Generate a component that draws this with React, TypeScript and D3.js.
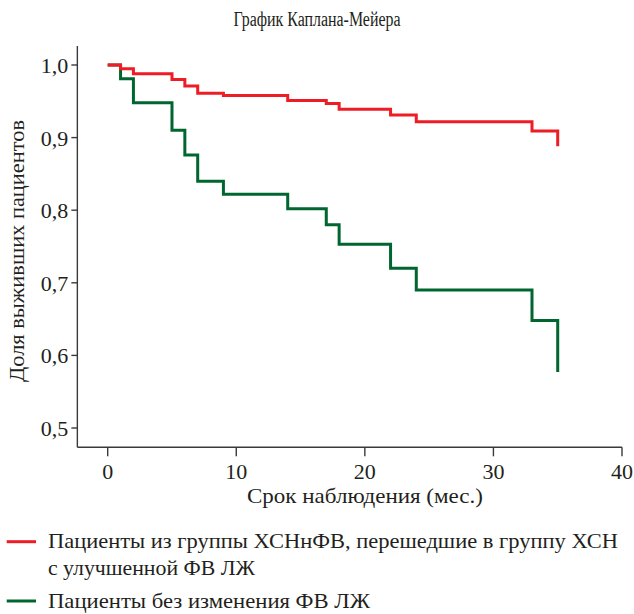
import React from "react";
import * as d3 from "d3";

const title = "График Каплана-Мейера";
const xTitle = "Срок наблюдения (мес.)";
const yTitle = "Доля выживших пациентов";
const xTicks = [0, 10, 20, 30, 40];
const yTicks = [0.5, 0.6, 0.7, 0.8, 0.9, 1.0];
const yTickLabels = ["0,5", "0,6", "0,7", "0,8", "0,9", "1,0"];

const redTimes = [0, 1, 2, 5, 6, 7, 9, 14, 17, 18, 22, 24, 33, 35];
const redSurv = [1.0, 0.995, 0.988, 0.980, 0.971, 0.961, 0.958, 0.951, 0.947, 0.939, 0.931, 0.922, 0.909, 0.888];
const greenTimes = [0, 1, 2, 5, 6, 7, 9, 14, 17, 18, 22, 24, 33, 35];
const greenSurv = [1.0, 0.981, 0.948, 0.910, 0.876, 0.840, 0.822, 0.802, 0.780, 0.753, 0.720, 0.690, 0.648, 0.577];

const legendRed1 = "Пациенты из группы ХСНнФВ, перешедшие в группу ХСН";
const legendRed2 = "с улучшенной ФВ ЛЖ";
const legendGreen = "Пациенты без изменения ФВ ЛЖ";

const RED = "#ee1c25";
const GREEN = "#00662f";
const AXIS = "#3a3a3a";
const TEXT = "#231f20";
const tStyle: React.CSSProperties = { fontFamily: '"Liberation Serif"' };

export default function App() {
  const x = d3.scaleLinear().domain([0, 40]).range([107.7, 622]);
  const y = d3.scaleLinear().domain([0.5, 1.0]).range([428, 65]);
  const xStart = x(-2.36);
  const yTop = y(1.026);
  const yBottom = 447.3;

  const line = d3
    .line<[number, number]>()
    .x((d) => x(d[0]))
    .y((d) => y(d[1]))
    .curve(d3.curveStepAfter);

  const redPts = redTimes.map((t, i) => [t, redSurv[i]] as [number, number]);
  const greenPts = greenTimes.map((t, i) => [t, greenSurv[i]] as [number, number]);

  return (
    <svg width={634} height={614} style={{ position: "absolute", left: 0, top: 0, background: "#fff" }}>
      <rect x={0} y={0} width={634} height={614} fill="#fff" />
      <text style={tStyle} x={317} y={26} textAnchor="middle" fontSize={20} fill={TEXT} textLength={167} lengthAdjust="spacingAndGlyphs">
        {title}
      </text>

      {/* axes */}
      <line x1={xStart} x2={x(40)} y1={yBottom} y2={yBottom} stroke={AXIS} strokeWidth={1.4} />
      <line x1={xStart} x2={xStart} y1={yTop} y2={yBottom} stroke={AXIS} strokeWidth={1.4} />

      {xTicks.map((t) => (
        <g key={"xt" + t}>
          <line x1={x(t)} x2={x(t)} y1={yBottom} y2={yBottom + 9} stroke={AXIS} strokeWidth={1.4} />
          <text style={tStyle} x={x(t)} y={479.3} textAnchor="middle" fontSize={22} fill={TEXT}>
            {t}
          </text>
        </g>
      ))}
      {yTicks.map((v, i) => (
        <g key={"yt" + v}>
          <line x1={xStart - 6} x2={xStart} y1={y(v)} y2={y(v)} stroke={AXIS} strokeWidth={1.4} />
          <text style={tStyle} x={xStart - 9} y={y(v) + 8} textAnchor="end" fontSize={22} fill={TEXT}>
            {yTickLabels[i]}
          </text>
        </g>
      ))}

      <text style={tStyle} x={365} y={503} textAnchor="middle" fontSize={22} fill={TEXT} textLength={236} lengthAdjust="spacingAndGlyphs">
        {xTitle}
      </text>
      <text
        style={tStyle}
        transform={`translate(24, 251) rotate(-90)`}
        textAnchor="middle"
        fontSize={22}
        fill={TEXT}
        textLength={262}
        lengthAdjust="spacingAndGlyphs"
      >
        {yTitle}
      </text>

      {/* curves */}
      <path d={line(greenPts) || ""} fill="none" stroke={GREEN} strokeWidth={3} />
      <path d={line(redPts) || ""} fill="none" stroke={RED} strokeWidth={3} />

      {/* legend */}
      <line x1={6.7} x2={36} y1={541.7} y2={541.7} stroke={RED} strokeWidth={3} />
      <text style={tStyle} x={48} y={548} fontSize={21} fill={TEXT} textLength={570} lengthAdjust="spacingAndGlyphs">
        {legendRed1}
      </text>
      <text style={tStyle} x={48} y={575} fontSize={21} fill={TEXT} textLength={207} lengthAdjust="spacingAndGlyphs">
        {legendRed2}
      </text>
      <line x1={6.7} x2={36} y1={601} y2={601} stroke={GREEN} strokeWidth={3} />
      <text style={tStyle} x={48} y={607.5} fontSize={21} fill={TEXT} textLength={322} lengthAdjust="spacingAndGlyphs">
        {legendGreen}
      </text>
    </svg>
  );
}
